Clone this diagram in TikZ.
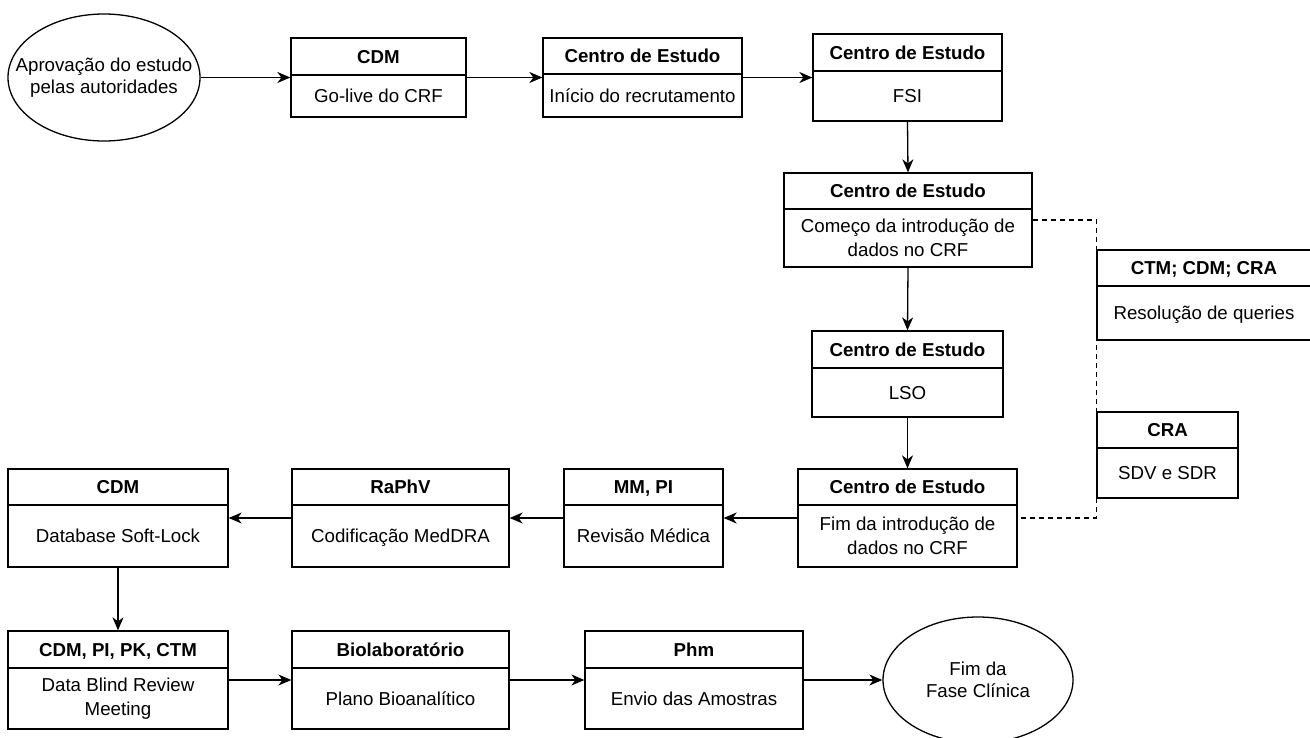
\documentclass[tikz,border=0pt]{standalone}
\usepackage{fontspec}
\setmainfont{Liberation Sans}
\usetikzlibrary{arrows.meta,shapes.geometric,fit,calc}
\tikzset{
  stagebox/.style={draw, line width=1.3pt, inner sep=0pt},
  stageline/.style={line width=1.3pt},
  hdr/.style={inner sep=0pt, align=center, text height=13.4pt, text depth=0pt, font=\fontsize{18.7}{23}\selectfont\bfseries},
  bdy/.style={inner sep=0pt, align=center, font=\fontsize{18.7}{23.5}\selectfont},
  bdyone/.style={inner sep=0pt, align=center, text height=13.4pt, text depth=0pt, font=\fontsize{18.7}{23}\selectfont},
  oval/.style={draw, ellipse, line width=1.3pt, inner sep=0pt},
  ovaltext/.style={inner sep=0pt, align=center, font=\fontsize{18.7}{22.5}\selectfont},
  flow/.style={line width=1.3pt, -{Stealth[length=13pt,width=11pt,inset=4pt]}},
  dashlink/.style={line width=1.3pt, dash pattern=on 5pt off 4pt}
}
\newcommand\stagebx[9][bdyone]{%
  \coordinate (#2-tl) at (#3,#4);
  \coordinate (#2-br) at (#5,#6);
  \node[stagebox, fit=(#2-tl)(#2-br)] (#2) {};
  \draw[stageline] (#3,#7) coordinate (#2-dl) -- (#5,#7) coordinate (#2-dr);
  \node[hdr] (#2-h) at ($(#2-tl)!0.5!(#2-dr)$) {#8};
  \node[#1] (#2-b) at ($(#2-dl)!0.5!(#2-br)$) {#9};
}
\begin{document}
\begin{tikzpicture}[x=1pt,y=-1pt]
\useasboundingbox (0,0) rectangle (1310,737);

\node[oval, minimum width=192pt, minimum height=127pt] (apr) at (104,77.5) {};
\node[ovaltext] (apr-t) at (apr.center) {Aprovação do estudo\\pelas autoridades};

\stagebx{cdm}{291}{38}{466}{117}{75}{CDM}{Go-live do CRF}
\stagebx{ini}{543}{38}{742}{117}{74}{Centro de Estudo}{Início do recrutamento}
\stagebx{fsi}{813}{34}{1002}{121}{71}{Centro de Estudo}{FSI}
\stagebx[bdy]{com}{784}{173}{1032}{267}{209}{Centro de Estudo}{Começo da introdução de\\dados no CRF}
\stagebx{res}{1097}{250}{1311}{340}{286}{CTM; CDM; CRA}{Resolução de queries}
\stagebx{lso}{812}{331}{1003}{417}{368}{Centro de Estudo}{LSO}
\stagebx{cra}{1097}{412}{1238}{498}{448}{CRA}{SDV e SDR}
\stagebx[bdy]{fim}{798}{469}{1017}{567}{505}{Centro de Estudo}{Fim da introdução de\\dados no CRF}
\stagebx{mm}{564}{469}{723}{567}{505}{MM, PI}{Revisão Médica}
\stagebx{rap}{292}{469}{509}{567}{505}{RaPhV}{Codificação MedDRA}
\stagebx{cdmb}{8}{469}{228}{567}{505}{CDM}{Database Soft-Lock}
\stagebx[bdy]{dbr}{8}{631}{228}{729}{668}{CDM, PI, PK, CTM}{Data Blind Review\\Meeting}
\stagebx{bio}{292}{631}{509}{729}{668}{Biolaboratório}{Plano Bioanalítico}
\stagebx{phm}{585}{631}{803}{729}{668}{Phm}{Envio das Amostras}

\node[oval, minimum width=190pt, minimum height=126pt] (end) at (978,680) {};
\node[ovaltext] (end-t) at (end.center) {Fim da\\Fase Clínica};

\draw[flow] (apr.east) -- (cdm.west);
\draw[flow] (cdm.east) -- (ini.west);
\draw[flow] (ini.east) -- (fsi.west);
\draw[flow] (fsi.south) -- (com.north);
\draw[flow] (com.south) -- (lso.north);
\draw[flow] (lso.south) -- (fim.north);
\draw[flow] (fim.west) -- (mm.east);
\draw[flow] (mm.west) -- (rap.east);
\draw[flow] (rap.west) -- (cdmb.east);
\draw[flow] (cdmb.south) -- (dbr.north);
\draw[flow] (dbr.east) -- (bio.west);
\draw[flow] (bio.east) -- (phm.west);
\draw[flow] (phm.east) -- (end.west);

\draw[dashlink] (com.east) -- (com.east -| res.west) -- (fim.east -| res.west) -- (fim.east);
\end{tikzpicture}
\end{document}
